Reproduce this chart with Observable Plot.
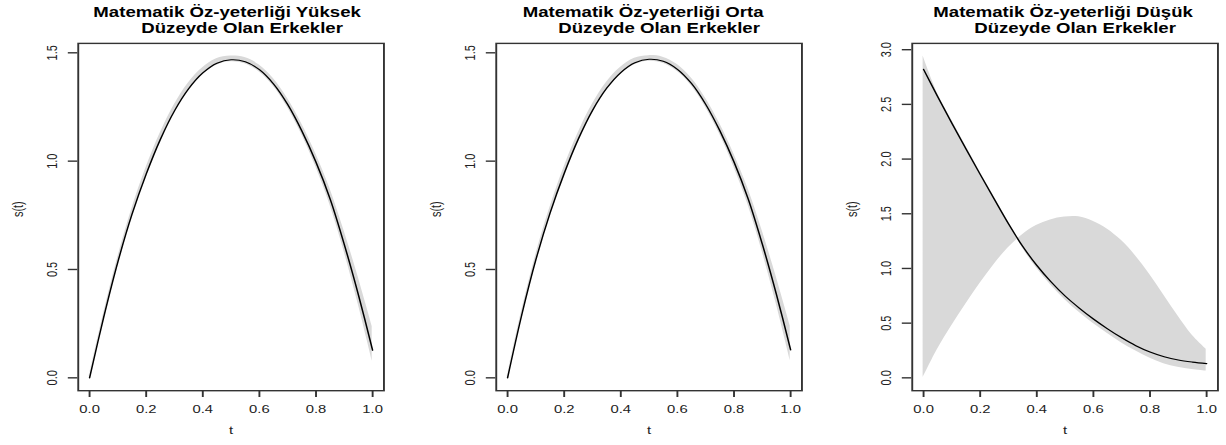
<!DOCTYPE html>
<html>
<head>
<meta charset="utf-8">
<script src="https://cdn.jsdelivr.net/npm/d3@7"></script>
<script src="https://cdn.jsdelivr.net/npm/@observablehq/plot@0.6"></script>
<style>
  html, body { margin: 0; padding: 0; background: #fff; overflow: hidden; }
  #chart { position: relative; width: 1226px; height: 445px; background: #fff; }
  #chart svg { position: absolute; top: 0; }
</style>
</head>
<body>
<div id="chart"></div>
<script>
// Time grid on which the functional estimates are evaluated
const tGrid = [0, 0.05, 0.10, 0.15, 0.20, 0.25, 0.30, 0.35, 0.40, 0.45, 0.50,
               0.55, 0.60, 0.65, 0.70, 0.75, 0.80, 0.85, 0.90, 0.95, 1.00];

// Yüksek düzey: estimate s(t) and its band
const sHigh  = [0, 0.280, 0.535, 0.755, 0.940, 1.100, 1.232, 1.334, 1.407, 1.452, 1.468,
                1.459, 1.422, 1.356, 1.261, 1.139, 0.995, 0.825, 0.615, 0.382, 0.127];
const loHigh = [0, 0.275, 0.530, 0.750, 0.932, 1.090, 1.222, 1.324, 1.397, 1.442, 1.458,
                1.449, 1.412, 1.346, 1.249, 1.124, 0.975, 0.800, 0.585, 0.342, 0.077];
const hiHigh = [0.005, 0.290, 0.550, 0.775, 0.965, 1.125, 1.257, 1.359, 1.429, 1.472, 1.484,
                1.477, 1.444, 1.382, 1.291, 1.174, 1.035, 0.875, 0.680, 0.467, 0.237];

// Orta düzey
const sMid  = [0, 0.290, 0.545, 0.760, 0.943, 1.102, 1.234, 1.336, 1.409, 1.454, 1.470,
               1.461, 1.424, 1.358, 1.262, 1.140, 0.996, 0.826, 0.617, 0.384, 0.129];
const loMid = [0, 0.285, 0.540, 0.755, 0.935, 1.092, 1.224, 1.326, 1.399, 1.444, 1.460,
               1.451, 1.414, 1.348, 1.250, 1.125, 0.976, 0.801, 0.587, 0.344, 0.079];
const hiMid = [0.005, 0.300, 0.560, 0.780, 0.968, 1.127, 1.259, 1.361, 1.431, 1.474, 1.486,
               1.479, 1.446, 1.384, 1.292, 1.175, 1.036, 0.876, 0.682, 0.469, 0.239];

// Düşük düzey: estimate and the two band edges
const sLow  = [2.820, 2.570, 2.328, 2.092, 1.860, 1.632, 1.408, 1.203, 1.028, 0.878, 0.748,
               0.638, 0.538, 0.448, 0.366, 0.294, 0.236, 0.193, 0.163, 0.144, 0.130];
const bandA = [0.000, 0.255, 0.470, 0.668, 0.858, 1.033, 1.185, 1.305, 1.390, 1.442, 1.468,
               1.470, 1.430, 1.360, 1.255, 1.115, 0.945, 0.755, 0.565, 0.390, 0.260];
const bandB = [2.940, 2.605, 2.360, 2.122, 1.888, 1.658, 1.430, 1.190, 1.005, 0.850, 0.715,
               0.600, 0.497, 0.405, 0.320, 0.245, 0.180, 0.128, 0.095, 0.075, 0.060];

// Axis ticks
const xTicks = [0, 0.2, 0.4, 0.6, 0.8, 1.0];
const yTicksA = [0, 0.5, 1.0, 1.5];
const yTicksB = [0, 0.5, 1.0, 1.5, 2.0, 2.5, 3.0];

// Panel titles
const titles = [
  ["Matematik Öz-yeterliği Yüksek", "Düzeyde Olan Erkekler"],
  ["Matematik Öz-yeterliği Orta", "Düzeyde Olan Erkekler"],
  ["Matematik Öz-yeterliği Düşük", "Düzeyde Olan Erkekler"]
];

// The device output is stretched: drawn in a smaller coordinate system, shown wider than tall
const SX = 1.9, SY = 1.4;
const H = 445;
const BOX_L = 77.3, BOX_W = 305.7, BOX_T = 42.7, BOX_B = 390;
const FONT = "'Liberation Sans', Arial, Helvetica, sans-serif";
const fmt = d3.format(".1f");

function panel({data, y1, y2, yDomain, yTicks, title, titleDx, left, widthPx}) {
  const plot = Plot.plot({
    width: widthPx / SX,
    height: H / SY,
    marginLeft: BOX_L / SX,
    marginRight: (widthPx - BOX_L - BOX_W) / SX,
    marginTop: BOX_T / SY,
    marginBottom: (H - BOX_B) / SY,
    style: {fontFamily: FONT, fontSize: "7.8px", color: "#222", background: "white"},
    x: {domain: [-0.04, 1.04]},
    y: {domain: yDomain},
    marks: [
      Plot.areaY(data, {x: "t", y1, y2, fill: "#d9d9d9", curve: "catmull-rom"}),
      Plot.lineY(data, {x: "t", y: "s", stroke: "black", strokeWidth: 0.8, curve: "catmull-rom"}),
      Plot.frame({stroke: "#333", strokeWidth: 1}),
      Plot.axisX({ticks: xTicks, tickFormat: fmt, tickSize: 5, tickPadding: 5.6, label: null, stroke: "#333"}),
      Plot.axisY({ticks: yTicks, tickFormat: fmt, tickSize: 5, tickPadding: 6.2, tickRotate: -90, label: null, stroke: "#333"}),
      Plot.text(["t"], {text: d => d, frameAnchor: "bottom", dy: 30.7, fontSize: 7.8, fill: "#222"}),
      Plot.text(["s(t)"], {text: d => d, frameAnchor: "left", rotate: -90, dx: -31.6, fontSize: 7.8, fill: "#222"}),
      Plot.text([title[0]], {text: d => d, frameAnchor: "top", lineAnchor: "bottom", dy: 11.93 - BOX_T / SY,
        dx: titleDx[0] / SX, fontWeight: "bold", fontSize: 9.8, fill: "black"}),
      Plot.text([title[1]], {text: d => d, frameAnchor: "top", lineAnchor: "bottom", dy: 23.07 - BOX_T / SY,
        dx: titleDx[1] / SX, fontWeight: "bold", fontSize: 9.8, fill: "black"})
    ]
  });
  const svg = plot.tagName.toLowerCase() === "svg" ? plot : plot.querySelector("svg");
  svg.setAttribute("width", widthPx);
  svg.setAttribute("height", H);
  svg.setAttribute("preserveAspectRatio", "none");
  svg.style.width = widthPx + "px";
  svg.style.height = H + "px";
  svg.style.maxWidth = "none";
  svg.style.left = left + "px";
  return svg;
}

const highData = tGrid.map((t, i) => ({t, s: sHigh[i], lo: loHigh[i], hi: hiHigh[i]}));
const midData = tGrid.map((t, i) => ({t, s: sMid[i], lo: loMid[i], hi: hiMid[i]}));
const lowData = tGrid.map((t, i) => ({t, s: sLow[i], a: bandA[i], b: bandB[i]}));

const chart = document.getElementById("chart");
chart.append(panel({data: highData, y1: "lo", y2: "hi", yDomain: [-0.0594, 1.5434], yTicks: yTicksA,
  title: titles[0], titleDx: [-4, 11], left: 0, widthPx: 417}));
chart.append(panel({data: midData, y1: "lo", y2: "hi", yDomain: [-0.0594, 1.5434], yTicks: yTicksA,
  title: titles[1], titleDx: [-6, 10], left: 418.4, widthPx: 417}));
chart.append(panel({data: lowData, y1: "a", y2: "b", yDomain: [-0.1176, 3.0576], yTicks: yTicksB,
  title: titles[2], titleDx: [-2, 10], left: 834.4, widthPx: 391.6}));
</script>
</body>
</html>
